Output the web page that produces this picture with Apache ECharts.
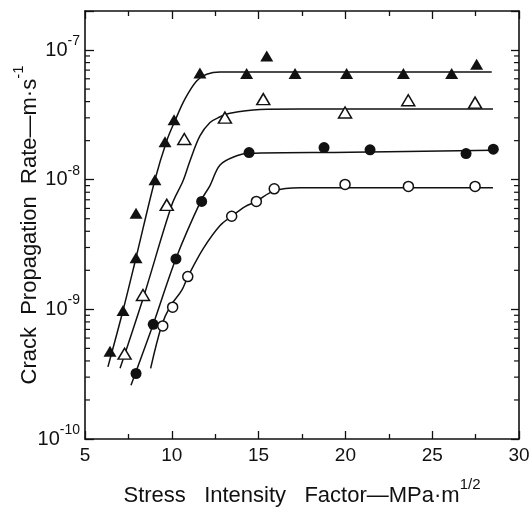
<!DOCTYPE html>
<html>
<head>
<meta charset="utf-8">
<script src="https://cdn.jsdelivr.net/npm/echarts@6/dist/echarts.min.js"></script>
<style>
html,body{margin:0;padding:0;background:#fff;}
#chart{width:531px;height:512px;}
</style>
</head>
<body>
<div id="chart"></div>
<script>
// ---- data ----
const xTicks = [5, 10, 15, 20, 25, 30];
const yDecades = [1e-10, 1e-9, 1e-8, 1e-7];
const minorMultipliers = [2, 3, 4, 5, 6, 7, 8, 9];

// filled triangles
const filledTriK = [6.44, 7.19, 7.94, 7.94, 9.03, 9.61, 10.13, 11.62, 14.31, 15.47, 17.10, 20.07, 23.34, 26.12, 27.56];
const filledTriRate = [4.75e-10, 9.8e-10, 2.5e-9, 5.5e-9, 1.0e-8, 1.96e-8, 2.9e-8, 6.65e-8, 6.6e-8, 9.0e-8, 6.6e-8, 6.6e-8, 6.6e-8, 6.6e-8, 7.77e-8];
// open triangles
const openTriK = [7.28, 8.34, 9.71, 10.72, 13.06, 15.27, 19.98, 23.62, 27.47];
const openTriRate = [4.55e-10, 1.29e-9, 6.4e-9, 2.06e-8, 3.01e-8, 4.18e-8, 3.3e-8, 4.1e-8, 3.93e-8];
// filled circles
const filledCircK = [7.94, 8.93, 10.24, 11.72, 14.45, 18.77, 21.42, 26.95, 28.52];
const filledCircRate = [3.2e-10, 7.67e-10, 2.45e-9, 6.8e-9, 1.62e-8, 1.77e-8, 1.70e-8, 1.59e-8, 1.72e-8];
// open circles
const openCircK = [9.48, 10.05, 10.92, 13.45, 14.87, 15.90, 19.98, 23.63, 27.47];
const openCircRate = [7.45e-10, 1.04e-9, 1.79e-9, 5.22e-9, 6.8e-9, 8.5e-9, 9.2e-9, 8.87e-9, 8.87e-9];

// fitted curves
const curveAK = [6.32, 7.19, 7.94, 9.03, 9.71, 10.18, 10.76, 11.43, 12.01, 12.78, 16, 22, 28.43];
const curveARate = [3.6e-10, 9.8e-10, 2.5e-9, 1.0e-8, 2.0e-8, 2.84e-8, 4.2e-8, 5.78e-8, 6.5e-8, 6.77e-8, 6.77e-8, 6.77e-8, 6.77e-8];
const curveBK = [7.02, 8.40, 10.01, 10.65, 11.05, 11.62, 12.20, 12.66, 13.35, 15.08, 17.38, 23, 28.50];
const curveBRate = [3.51e-10, 1.28e-9, 6.43e-9, 9.8e-9, 1.40e-8, 2.18e-8, 2.76e-8, 3.0e-8, 3.25e-8, 3.48e-8, 3.51e-8, 3.51e-8, 3.51e-8];
const curveCK = [7.65, 8.93, 10.24, 11.68, 12.20, 12.78, 13.74, 14.45, 20.27, 28.50];
const curveCRate = [2.6e-10, 7.67e-10, 2.47e-9, 6.89e-9, 9.0e-9, 1.30e-8, 1.53e-8, 1.60e-8, 1.63e-8, 1.69e-8];
const curveDK = [8.78, 9.42, 9.90, 10.57, 10.93, 11.81, 12.78, 13.45, 14.22, 14.87, 15.89, 17.38, 23, 28.50];
const curveDRate = [3.50e-10, 7.53e-10, 1.05e-9, 1.40e-9, 1.79e-9, 2.94e-9, 4.43e-9, 5.22e-9, 6.2e-9, 6.8e-9, 8.2e-9, 8.67e-9, 8.67e-9, 8.67e-9];

const xTitle = 'Stress   Intensity   Factor—MPa·m';
const xTitleSup = '1/2';
const yTitle = 'Crack  Propagation  Rate—m·s';
const yTitleSup = '-1';

// ---- build ----
const zip = (a, b) => a.map((v, i) => [v, b[i]]);
const Y_MIN = 1e-10, Y_MAX = 2e-7;
const minorTickValues = [];
yDecades.forEach(d => minorMultipliers.forEach(m => { const v = d * m; if (v < Y_MAX) minorTickValues.push([5, v]); }));

const INK = '#111';
const FONT = 'Liberation Sans';

function yLabel(v) {
  const e = Math.round(Math.log10(v));
  if (Math.abs(Math.log10(v) - e) > 0.01) return '';
  if (!yDecades.some(d => Math.abs(Math.log10(d) - e) < 0.01)) return '';
  return '{b|10}{s|' + e + '}';
}

const axisLineStyle = { color: INK, width: 1.6 };
const titleRich = {
  t: { fontSize: 22, fontFamily: FONT, color: INK, lineHeight: 30, verticalAlign: 'bottom' },
  s: { fontSize: 15, fontFamily: FONT, color: INK, lineHeight: 15, verticalAlign: 'top' }
};

const chart = echarts.init(document.getElementById('chart'), null, { renderer: 'canvas' });
chart.setOption({
  backgroundColor: '#fff',
  animation: false,
  grid: { left: 85, right: 12, top: 11, bottom: 73, outerBoundsMode: 'none', containLabel: false },
  xAxis: [
    {
      type: 'value', min: 5, max: 30, interval: 5, position: 'bottom',
      axisLine: { lineStyle: axisLineStyle },
      axisTick: { inside: true, length: 8, lineStyle: { color: INK, width: 1.3 } },
      minorTick: { show: true, splitNumber: 2, length: 5, lineStyle: { color: INK, width: 1.3 } },
      splitLine: { show: false }, minorSplitLine: { show: false },
      axisLabel: { color: INK, fontSize: 19, fontFamily: FONT, margin: 7,
        formatter: v => xTicks.indexOf(v) >= 0 ? String(v) : '' },
      name: '{t|' + xTitle + '}{s|' + xTitleSup + '}',
      nameLocation: 'middle', nameGap: 38, nameMoveOverlap: false,
      nameTextStyle: { rich: titleRich }
    },
    {
      type: 'value', min: 5, max: 30, interval: 5, position: 'top',
      axisLine: { lineStyle: axisLineStyle },
      axisTick: { inside: true, length: 8, lineStyle: { color: INK, width: 1.3 } },
      minorTick: { show: true, splitNumber: 2, length: 5, lineStyle: { color: INK, width: 1.3 } },
      splitLine: { show: false }, axisLabel: { show: false }
    }
  ],
  yAxis: [
    {
      type: 'log', logBase: 10, min: Y_MIN, max: Y_MAX, position: 'left',
      axisLine: { lineStyle: axisLineStyle },
      axisTick: { inside: true, length: 9, lineStyle: { color: INK, width: 1.3 } },
      splitLine: { show: false },
      axisLabel: { color: INK, margin: 5, formatter: yLabel,
        rich: {
          b: { fontSize: 20, fontFamily: FONT, color: INK, lineHeight: 32 },
          s: { fontSize: 14, fontFamily: FONT, color: INK, lineHeight: 14, verticalAlign: 'top' } } },
      name: '{t|' + yTitle + '}{s|' + yTitleSup + '}',
      nameLocation: 'middle', nameGap: 44, nameRotate: 90, nameMoveOverlap: false,
      nameTextStyle: { rich: titleRich }
    },
    {
      type: 'log', logBase: 10, min: Y_MIN, max: Y_MAX, position: 'right',
      axisLine: { lineStyle: axisLineStyle },
      axisTick: { inside: true, length: 8, lineStyle: { color: INK, width: 1.3 } },
      splitLine: { show: false }, axisLabel: { show: false }
    }
  ],
  series: [
    {
      type: 'custom', xAxisIndex: 0, yAxisIndex: 0, silent: true, z: 1,
      data: minorTickValues,
      renderItem: function (params, api) {
        const p = api.coord([api.value(0), api.value(1)]);
        const cs = params.coordSys;
        const len = 5;
        const st = { stroke: INK, lineWidth: 1.2 };
        return { type: 'group', children: [
          { type: 'line', shape: { x1: cs.x, y1: p[1], x2: cs.x + len, y2: p[1] }, style: st },
          { type: 'line', shape: { x1: cs.x + cs.width - len, y1: p[1], x2: cs.x + cs.width, y2: p[1] }, style: st }
        ] };
      }
    },
    { type: 'line', data: zip(curveAK, curveARate), smooth: 0.35, showSymbol: false, lineStyle: { color: INK, width: 1.5 }, z: 2 },
    { type: 'line', data: zip(curveBK, curveBRate), smooth: 0.35, showSymbol: false, lineStyle: { color: INK, width: 1.5 }, z: 2 },
    { type: 'line', data: zip(curveCK, curveCRate), smooth: 0.35, showSymbol: false, lineStyle: { color: INK, width: 1.5 }, z: 2 },
    { type: 'line', data: zip(curveDK, curveDRate), smooth: 0.35, showSymbol: false, lineStyle: { color: INK, width: 1.5 }, z: 2 },
    { type: 'scatter', data: zip(filledTriK, filledTriRate), symbol: 'triangle', symbolSize: [13, 11],
      itemStyle: { color: INK, opacity: 1 }, z: 5 },
    { type: 'scatter', data: zip(openTriK, openTriRate), symbol: 'triangle', symbolSize: [13, 11],
      itemStyle: { color: '#fff', borderColor: INK, borderWidth: 1.5, opacity: 1 }, z: 5 },
    { type: 'scatter', data: zip(filledCircK, filledCircRate), symbol: 'circle', symbolSize: 11,
      itemStyle: { color: INK, opacity: 1 }, z: 5 },
    { type: 'scatter', data: zip(openCircK, openCircRate), symbol: 'circle', symbolSize: 10,
      itemStyle: { color: '#fff', borderColor: INK, borderWidth: 1.5, opacity: 1 }, z: 5 }
  ]
});
</script>
</body>
</html>
